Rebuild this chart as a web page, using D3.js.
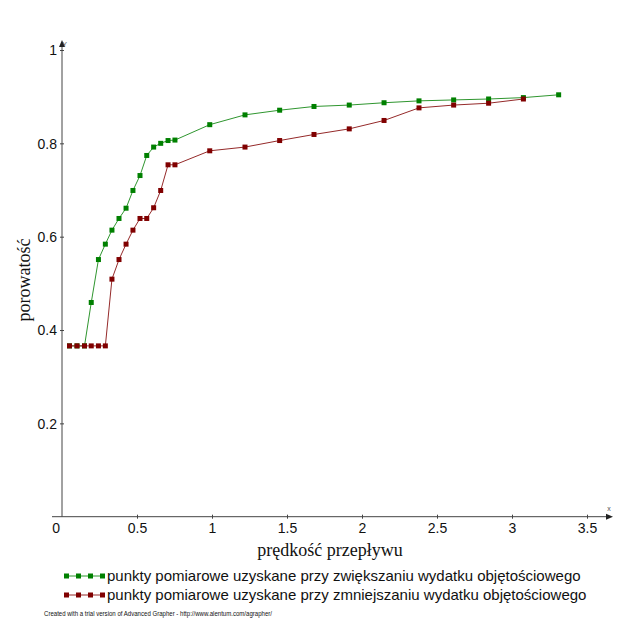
<!DOCTYPE html>
<html>
<head>
<meta charset="utf-8">
<script src="https://cdn.jsdelivr.net/npm/d3@7"></script>
<style>
  body { margin: 0; background: #fff; }
  svg { display: block; }
</style>
</head>
<body>
<div id="chart"></div>
<script>

// prędkość przepływu (shared x values)
var predkosc = [0.05, 0.1, 0.15, 0.195, 0.243, 0.289, 0.333, 0.38, 0.427, 0.473, 0.52, 0.565, 0.611, 0.658, 0.707, 0.753, 0.985, 1.22, 1.451, 1.68, 1.915, 2.147, 2.38, 2.611, 2.844, 3.076, 3.311];

// porowatość - increasing flow
var porowatoscZw = [0.366, 0.366, 0.366, 0.459, 0.551, 0.584, 0.614, 0.639, 0.661, 0.699, 0.731, 0.774, 0.792, 0.800, 0.806, 0.807, 0.840, 0.861, 0.871, 0.879, 0.882, 0.887, 0.891, 0.893, 0.895, 0.898, 0.904];

// porowatość - decreasing flow (no last point)
var porowatoscZm = [0.366, 0.366, 0.366, 0.366, 0.366, 0.366, 0.509, 0.551, 0.584, 0.614, 0.639, 0.639, 0.662, 0.699, 0.754, 0.754, 0.784, 0.792, 0.806, 0.819, 0.831, 0.849, 0.876, 0.882, 0.886, 0.895];

var xTicks = [0.5, 1, 1.5, 2, 2.5, 3, 3.5];
var yTicks = [0.2, 0.4, 0.6, 0.8, 1];

var legendLabels = [
  "punkty pomiarowe uzyskane przy zwiększaniu wydatku objętościowego",
  "punkty pomiarowe uzyskane przy zmniejszaniu wydatku objętościowego"
];
var seriesColors = ["#008000", "#800000"];
var lineColors = ["#2f962f", "#952a2a"];

var svgWidth = 628;
var svgHeight = 628;

var svg = d3.select("#chart")
  .append("svg")
  .attr("width", svgWidth)
  .attr("height", svgHeight);

var xScale = d3.scaleLinear().domain([0, 3.5]).range([62, 587]);
var yScale = d3.scaleLinear().domain([0, 1]).range([516.7, 50]);

var axisColor = "#444";

// x axis
var xAxis = d3.axisBottom(xScale).tickValues(xTicks).tickSize(0).tickFormat(d3.format("~g"));
var gx = svg.append("g").attr("transform", `translate(0, ${yScale(0)})`).call(xAxis);
gx.select(".domain").remove();
gx.selectAll(".tick line").attr("y1", -2).attr("y2", 2).attr("stroke", axisColor);
gx.selectAll(".tick text")
  .attr("y", 6).attr("dy", "0.71em")
  .attr("font-family", "Liberation Sans, Arial, sans-serif")
  .attr("font-size", 14).attr("fill", "#111");
gx.append("line").attr("x1", 52).attr("x2", 610).attr("y1", 0).attr("y2", 0)
  .attr("stroke", axisColor).attr("stroke-width", 1);
gx.append("path").attr("d", "M613,0 L606,-3 L606,3 Z").attr("fill", "#222");
gx.append("text").attr("x", 609).attr("y", -6).attr("font-size", 7)
  .attr("font-family", "Liberation Sans, Arial, sans-serif").attr("fill", "#555").text("x");

// y axis
var yAxis = d3.axisLeft(yScale).tickValues(yTicks).tickSize(0).tickFormat(d3.format("~g"));
var gy = svg.append("g").attr("transform", `translate(${xScale(0)}, 0)`).call(yAxis);
gy.select(".domain").remove();
gy.selectAll(".tick line").attr("x1", -2).attr("x2", 2).attr("stroke", axisColor);
gy.selectAll(".tick text")
  .attr("x", -5).attr("dy", "0.35em")
  .attr("font-family", "Liberation Sans, Arial, sans-serif")
  .attr("font-size", 14).attr("fill", "#111");
gy.append("line").attr("x1", 0).attr("x2", 0).attr("y1", 44).attr("y2", yScale(0))
  .attr("stroke", axisColor).attr("stroke-width", 1);
gy.append("path").attr("d", "M0,40 L-3,47 L3,47 Z").attr("fill", "#222");
gy.append("text").attr("x", 5).attr("y", 47).attr("font-size", 7)
  .attr("font-family", "Liberation Sans, Arial, sans-serif").attr("fill", "#555").text("Y");

// origin label
svg.append("text").attr("x", xScale(0) - 2).attr("y", yScale(0) + 6).attr("dy", "0.71em")
  .attr("text-anchor", "end")
  .attr("font-family", "Liberation Sans, Arial, sans-serif")
  .attr("font-size", 14).attr("fill", "#111").text("0");

// axis titles
svg.append("text")
  .attr("transform", "translate(" + 30 + " ," + 280 + ") rotate(-90)")
  .style("text-anchor", "middle")
  .attr("font-family", "Liberation Serif, Times New Roman, serif")
  .attr("font-size", 18).attr("fill", "#111")
  .text("porowatość");

svg.append("text")
  .attr("x", 330).attr("y", 556)
  .style("text-anchor", "middle")
  .attr("font-family", "Liberation Serif, Times New Roman, serif")
  .attr("font-size", 18).attr("fill", "#111")
  .text("prędkość przepływu");

// series
var series = [
  predkosc.map((x, i) => ({ x: x, y: porowatoscZw[i] })),
  porowatoscZm.map((y, i) => ({ x: predkosc[i], y: y }))
];

var line = d3.line().x(d => xScale(d.x)).y(d => yScale(d.y));
var sq = 5;

series.forEach(function(data, k) {
  svg.append("path")
    .datum(data)
    .attr("d", line)
    .attr("fill", "none")
    .attr("stroke", lineColors[k])
    .attr("stroke-width", 1);

  svg.append("g").selectAll("rect")
    .data(data)
    .enter()
    .append("rect")
    .attr("x", d => xScale(d.x) - sq / 2)
    .attr("y", d => yScale(d.y) - sq / 2)
    .attr("width", sq)
    .attr("height", sq)
    .attr("fill", seriesColors[k]);
});

// legend
var legend = svg.append("g");
legendLabels.forEach(function(label, k) {
  var ly = 576 + k * 19;
  legend.append("line").attr("x1", 64).attr("x2", 103).attr("y1", ly).attr("y2", ly)
    .attr("stroke", lineColors[k]).attr("stroke-width", 1);
  [0, 1, 2, 3].forEach(function(j) {
    legend.append("rect").attr("x", 64 + j * 12).attr("y", ly - 2.5)
      .attr("width", 5).attr("height", 5).attr("fill", seriesColors[k]);
  });
  legend.append("text").attr("x", 107).attr("y", ly + 5)
    .attr("font-family", "Liberation Sans, Arial, sans-serif")
    .attr("font-size", 15).attr("fill", "#111")
    .text(label);
});

// footer
svg.append("text").attr("x", 44).attr("y", 616)
  .attr("font-family", "Liberation Sans, Arial, sans-serif")
  .attr("font-size", 8).attr("fill", "#111")
  .attr("textLength", 228).attr("lengthAdjust", "spacingAndGlyphs")
  .text("Created with a trial version of Advanced Grapher - http://www.alentum.com/agrapher/");

</script>
</body>
</html>
